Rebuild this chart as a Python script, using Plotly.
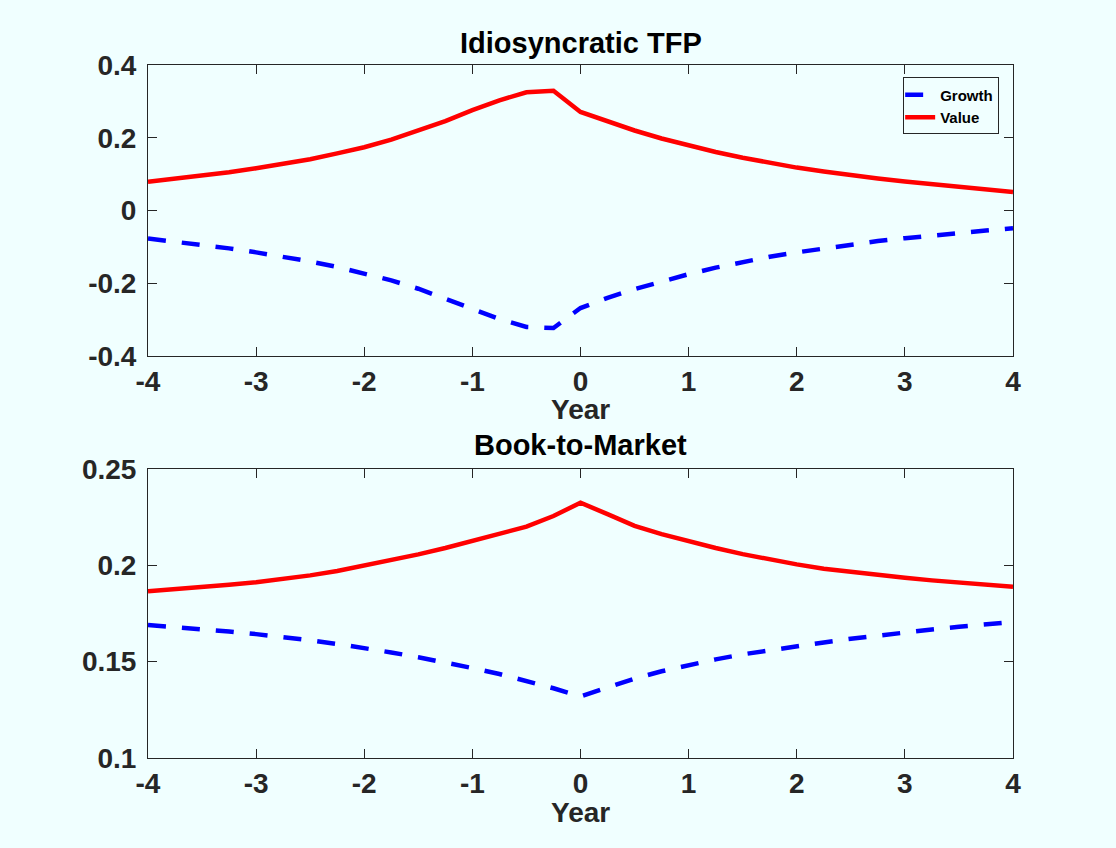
import plotly.graph_objects as go

# ---------------- data ----------------
years = [-4, -3.75, -3.5, -3.25, -3, -2.75, -2.5, -2.25, -2, -1.75, -1.5, -1.25, -1,
         -0.75, -0.5, -0.25, 0, 0.25, 0.5, 0.75, 1, 1.25, 1.5, 1.75, 2, 2.25, 2.5,
         2.75, 3, 3.25, 3.5, 3.75, 4]

tfp_growth = [-0.077, -0.085, -0.094, -0.104, -0.115, -0.127, -0.140, -0.155, -0.172,
              -0.192, -0.215, -0.242, -0.270, -0.298, -0.320, -0.323, -0.268,
              -0.240, -0.216, -0.194, -0.175, -0.157, -0.141, -0.127, -0.115,
              -0.104, -0.093, -0.084, -0.076, -0.068, -0.061, -0.055, -0.049]

tfp_value = [0.079, 0.087, 0.096, 0.105, 0.116, 0.128, 0.141, 0.157, 0.174,
             0.195, 0.219, 0.246, 0.276, 0.303, 0.325, 0.329, 0.271,
             0.244, 0.220, 0.198, 0.179, 0.161, 0.145, 0.131, 0.118,
             0.107, 0.096, 0.088, 0.080, 0.072, 0.065, 0.058, 0.051]

bm_growth = [0.1690, 0.1680, 0.1669, 0.1657, 0.1643, 0.1628, 0.1611, 0.1592, 0.1571,
             0.1548, 0.1523, 0.1496, 0.1467, 0.1436, 0.1401, 0.1362, 0.1320,
             0.1369, 0.1412, 0.1450, 0.1483, 0.1512, 0.1538, 0.1560, 0.1581,
             0.1600, 0.1619, 0.1636, 0.1652, 0.1667, 0.1681, 0.1694, 0.1706]

bm_value = [0.1866, 0.1876, 0.1887, 0.1899, 0.1912, 0.1928, 0.1948, 0.1971, 0.1998,
            0.2026, 0.2057, 0.2090, 0.2126, 0.2160, 0.2201, 0.2256, 0.2325,
            0.2266, 0.2205, 0.2162, 0.2124, 0.2090, 0.2058, 0.2030, 0.2005,
            0.1982, 0.1965, 0.1950, 0.1936, 0.1922, 0.1910, 0.1899, 0.1889]

x_ticks = [-4, -3, -2, -1, 0, 1, 2, 3, 4]
x_ticklabels = ["-4", "-3", "-2", "-1", "0", "1", "2", "3", "4"]
y1_ticks = [-0.4, -0.2, 0, 0.2, 0.4]
y1_ticklabels = ["-0.4", "-0.2", "0", "0.2", "0.4"]
y2_ticks = [0.1, 0.15, 0.2, 0.25]
y2_ticklabels = ["0.1", "0.15", "0.2", "0.25"]

titles = ["Idiosyncratic TFP", "Book-to-Market"]
x_label = "Year"
series_names = ["Growth", "Value"]

# ---------------- style ----------------
BG = "#F0FFFF"
INK = "#262626"
FONT = "Liberation Sans"
LW = 4.5
DASH = "18px,16px"

fig = go.Figure()

fig.add_trace(go.Scatter(x=years, y=tfp_growth, mode="lines", name=series_names[0],
                         line=dict(color="blue", width=LW, dash=DASH),
                         xaxis="x", yaxis="y"))
fig.add_trace(go.Scatter(x=years, y=tfp_value, mode="lines", name=series_names[1],
                         line=dict(color="red", width=LW),
                         xaxis="x", yaxis="y"))
fig.add_trace(go.Scatter(x=years, y=bm_growth, mode="lines", name=series_names[0],
                         line=dict(color="blue", width=LW, dash=DASH),
                         xaxis="x2", yaxis="y2", showlegend=False))
fig.add_trace(go.Scatter(x=years, y=bm_value, mode="lines", name=series_names[1],
                         line=dict(color="red", width=LW),
                         xaxis="x2", yaxis="y2", showlegend=False))

tickfont = dict(family=FONT, size=28, color=INK, weight="bold")
titlefont = dict(family=FONT, size=29, color="black", weight="bold")

def xax(anchor):
    return dict(anchor=anchor, domain=[0, 1], range=[-4, 4],
                tickmode="array", tickvals=x_ticks, ticktext=x_ticklabels,
                ticks="inside", ticklen=9, tickwidth=1, tickcolor=INK,
                showline=True, linecolor=INK, linewidth=1, mirror="ticks",
                showgrid=False, zeroline=False, tickfont=tickfont,
                ticklabelstandoff=0)

def yax(anchor, dom, rng, tv, tt):
    return dict(anchor=anchor, domain=dom, range=rng,
                tickmode="array", tickvals=tv, ticktext=tt,
                ticks="inside", ticklen=9, tickwidth=1, tickcolor=INK,
                showline=True, linecolor=INK, linewidth=1, mirror="ticks",
                showgrid=False, zeroline=False, tickfont=tickfont,
                ticklabelstandoff=5)

def label(text, y, font):
    return dict(text=text, xref="paper", yref="paper", x=0.5, y=y,
                xanchor="center", yanchor="middle", showarrow=False, font=font)

fig.update_layout(
    width=1116, height=848,
    paper_bgcolor=BG, plot_bgcolor=BG,
    margin=dict(l=148, r=103, t=65, b=90),
    font=dict(family=FONT, color=INK),
    xaxis=xax("y"),
    yaxis=yax("x", [0.580, 1.0], [-0.4, 0.4], y1_ticks, y1_ticklabels),
    xaxis2=xax("y2"),
    yaxis2=yax("x2", [0.0, 0.417], [0.1, 0.25], y2_ticks, y2_ticklabels),
    legend=dict(x=0.984, y=0.982, xanchor="right", yanchor="top",
                bgcolor=BG, bordercolor=INK, borderwidth=1,
                font=dict(family=FONT, size=15, color="black", weight="bold"),
                tracegroupgap=0, itemwidth=30, indentation=-4),
    showlegend=True,
    annotations=[
        label(titles[0], 1.0317, titlefont),
        label(titles[1], 0.4517, titlefont),
        label(x_label, (758 - 409) / 693, tickfont),
        label(x_label, (758 - 812) / 693, tickfont),
    ],
)

fig.write_html("out.html")
